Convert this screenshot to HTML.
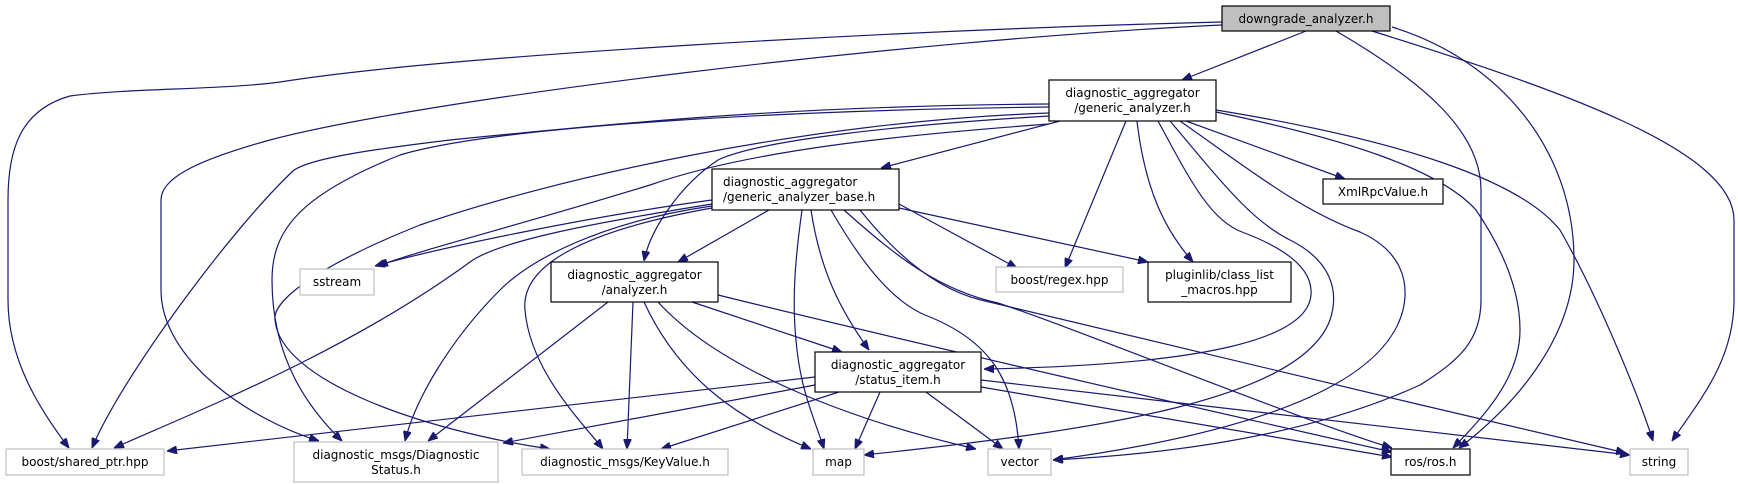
<!DOCTYPE html>
<html><head><meta charset="utf-8"><style>
html,body{margin:0;padding:0;background:#fff;}
svg{display:block;}
text{font-family:"DejaVu Sans","Liberation Sans",sans-serif;font-size:12px;fill:#000;}
.e{fill:none;stroke:#191970;stroke-width:1.2;marker-end:url(#a);}
.nb{fill:#fff;stroke:#000;stroke-width:1.2;}
.ng{fill:#fff;stroke:#bfbfbf;stroke-width:1.2;}
</style></head><body>
<svg width="1738" height="484" viewBox="0 0 1738 484" xmlns="http://www.w3.org/2000/svg">
<defs><marker id="a" viewBox="0 0 10 8" refX="10" refY="4" markerWidth="10" markerHeight="8" markerUnits="userSpaceOnUse" orient="auto"><path d="M0,0L10,4L0,8z" fill="#191970" stroke="#191970"/></marker></defs>

<!-- downgrade edges -->
<path class="e" d="M1222,22 C900,30 450,55 280,82 C220,90 130,88 70,96 C20,110 8,150 8,200 L8,300 C8,360 40,410 69,448"/>
<path class="e" d="M1222,25 C900,40 420,100 270,140 C190,162 161,180 161,200 L161,290 C161,360 250,420 319,441"/>
<path class="e" d="M1306,31 L1182,80"/>
<path class="e" d="M1336,31 C1420,80 1481,130 1481,190 L1481,300 C1481,340 1460,360 1420,385 C1300,440 1150,455 1053,460"/>
<path class="e" d="M1392,27 C1500,60 1574,150 1574,260 C1574,340 1510,410 1459,448"/>
<path class="e" d="M1372,31 C1560,90 1734,150 1734,220 L1734,300 C1734,360 1700,400 1672,441"/>

<!-- generic edges -->
<path class="e" d="M1186,121 L1345,179"/>
<path class="e" d="M1126,121 L1065,268"/>
<path class="e" d="M1137,121 C1145,190 1165,230 1193,262"/>
<path class="e" d="M1158,121 C1190,180 1210,220 1242,232 C1290,250 1310,270 1311,290 C1315,340 1200,365 984,369"/>
<path class="e" d="M1170,121 C1220,180 1250,220 1290,240 C1330,260 1340,290 1330,320 C1300,400 1100,430 864,455"/>
<path class="e" d="M1180,121 C1250,170 1300,210 1360,232 C1400,250 1410,280 1403,310 C1380,400 1200,440 1053,460"/>
<path class="e" d="M1216,112 C1350,140 1440,170 1476,210 C1510,260 1520,300 1520,330 C1520,380 1480,420 1453,448"/>
<path class="e" d="M1216,110 C1400,140 1520,180 1560,230 C1600,300 1640,400 1653,441"/>
<path class="e" d="M1060,121 L881,168"/>
<path class="e" d="M1049,116 C900,125 760,140 718,160 C680,185 650,230 644,261"/>
<path class="e" d="M1049,124 C900,135 750,150 650,185 C520,225 420,250 378,266"/>
<path class="e" d="M1049,104 C800,106 650,120 450,140 C350,152 310,160 294,170 C230,230 120,380 92,448"/>
<path class="e" d="M1049,107 C800,110 500,125 400,155 C300,195 272,230 272,280 C272,360 310,410 342,441"/>
<path class="e" d="M1049,113 C800,122 550,180 420,225 C320,265 272,300 275,320 C280,380 420,430 550,449"/>

<!-- base edges -->
<path class="e" d="M769,210 L678,262"/>
<path class="e" d="M712,200 C600,215 450,245 375,266"/>
<path class="e" d="M712,204 C600,222 500,240 470,262 C350,350 200,410 114,448"/>
<path class="e" d="M712,206 C600,222 530,260 500,290 C450,340 415,400 405,441"/>
<path class="e" d="M712,208 C600,228 520,260 525,310 C530,370 580,420 603,449"/>
<path class="e" d="M802,210 C795,260 792,300 796,340 C800,390 815,420 824,449"/>
<path class="e" d="M811,210 C820,270 840,310 869,350"/>
<path class="e" d="M831,210 C860,260 890,300 925,315 C990,340 1015,380 1019,449"/>
<path class="e" d="M844,210 C900,260 940,290 998,303 C1080,330 1300,420 1392,448"/>
<path class="e" d="M860,210 C900,260 940,290 981,300 C1100,330 1400,400 1626,453"/>
<path class="e" d="M899,204 L1017,268"/>
<path class="e" d="M899,208 L1148,262"/>

<!-- analyzer edges -->
<path class="e" d="M692,302 L842,352"/>
<path class="e" d="M718,295 C900,340 1250,420 1392,452"/>
<path class="e" d="M608,302 L428,441"/>
<path class="e" d="M633,302 L627,449"/>
<path class="e" d="M644,302 C680,380 740,420 811,449"/>
<path class="e" d="M658,302 C720,370 850,420 976,449"/>

<!-- status edges -->
<path class="e" d="M815,377 L167,451"/>
<path class="e" d="M815,385 L503,443"/>
<path class="e" d="M839,392 L661,449"/>
<path class="e" d="M880,392 L855,449"/>
<path class="e" d="M926,392 L1003,449"/>
<path class="e" d="M981,387 L1392,457"/>
<path class="e" d="M981,380 L1630,455"/>

<!-- nodes -->
<rect x="1222" y="6" width="168" height="25" fill="#bfbfbf" stroke="#000" stroke-width="1.2"/>
<text x="1306" y="23" text-anchor="middle">downgrade_analyzer.h</text>

<rect class="nb" x="1049" y="80" width="167" height="41"/>
<text x="1132.5" y="97" text-anchor="middle">diagnostic_aggregator</text>
<text x="1132.5" y="112" text-anchor="middle">/generic_analyzer.h</text>

<rect class="nb" x="712" y="169" width="187" height="41"/>
<text x="723" y="186">diagnostic_aggregator</text>
<text x="723" y="201">/generic_analyzer_base.h</text>

<rect class="nb" x="1323" y="179" width="120" height="25"/>
<text x="1383" y="196" text-anchor="middle">XmlRpcValue.h</text>

<rect class="ng" x="300" y="269" width="74" height="26"/>
<text x="337" y="286" text-anchor="middle">sstream</text>

<rect class="nb" x="551" y="262" width="167" height="40"/>
<text x="634.5" y="279" text-anchor="middle">diagnostic_aggregator</text>
<text x="634.5" y="294" text-anchor="middle">/analyzer.h</text>

<rect class="ng" x="996" y="267" width="127" height="25"/>
<text x="1059.5" y="284" text-anchor="middle">boost/regex.hpp</text>

<rect class="nb" x="1148" y="262" width="143" height="40"/>
<text x="1219.5" y="279" text-anchor="middle">pluginlib/class_list</text>
<text x="1219.5" y="294" text-anchor="middle">_macros.hpp</text>

<rect class="nb" x="815" y="352" width="166" height="40"/>
<text x="898" y="369" text-anchor="middle">diagnostic_aggregator</text>
<text x="898" y="384" text-anchor="middle">/status_item.h</text>

<rect class="ng" x="6" y="449" width="158" height="26"/>
<text x="85" y="466" text-anchor="middle">boost/shared_ptr.hpp</text>

<rect class="ng" x="294" y="442" width="204" height="40"/>
<text x="396" y="459" text-anchor="middle">diagnostic_msgs/Diagnostic</text>
<text x="396" y="474" text-anchor="middle">Status.h</text>

<rect class="ng" x="522" y="449" width="206" height="26"/>
<text x="625" y="466" text-anchor="middle">diagnostic_msgs/KeyValue.h</text>

<rect class="ng" x="813" y="449" width="51" height="26"/>
<text x="838.5" y="466" text-anchor="middle">map</text>

<rect class="ng" x="988" y="449" width="63" height="26"/>
<text x="1019.5" y="466" text-anchor="middle">vector</text>

<rect class="nb" x="1391" y="449" width="79" height="26"/>
<text x="1430.5" y="466" text-anchor="middle">ros/ros.h</text>

<rect class="ng" x="1630" y="449" width="58" height="26"/>
<text x="1659" y="466" text-anchor="middle">string</text>
</svg>
</body></html>
